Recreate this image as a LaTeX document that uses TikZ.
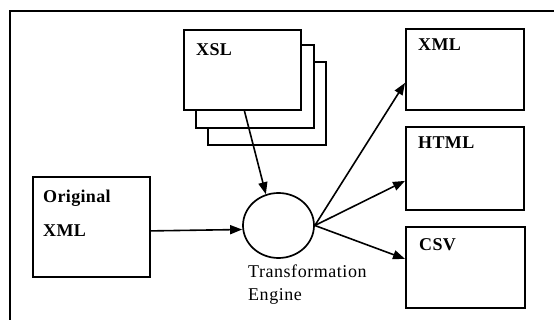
\documentclass[tikz,border=0pt]{standalone}
\usepackage{fontspec}
\setmainfont{Liberation Serif}
\newfontfamily\labfont[LetterSpace=2]{Liberation Serif}
\newfontfamily\capfont[LetterSpace=3]{Liberation Serif}
\usetikzlibrary{arrows.meta,shapes.geometric}
\begin{document}
\begin{tikzpicture}[x=1pt,y=-1pt,
  box/.style={draw,line width=1.8pt,rectangle,inner sep=0pt,anchor=north west,fill=white},
  boxtext/.style={anchor=base west,inner sep=0pt,font=\labfont\bfseries\fontsize{18}{20}\selectfont},
  captext/.style={anchor=base west,inner sep=0pt,font=\capfont\fontsize{18}{20}\selectfont},
  flow/.style={line width=1.6pt,-{Triangle[length=12pt,width=9pt]}},
  frameline/.style={line width=2pt}]
\useasboundingbox (0,0) rectangle (554,320);

% outer frame (only top and left edges fall inside the page)
\coordinate (frameTR) at (554,11);
\coordinate (frameTL) at (10,11);
\coordinate (frameBL) at (10,320);
\draw[frameline] (frameTR) -- (frameTL) -- (frameBL);

% stacked stylesheets
\node[box,minimum width=118pt,minimum height=83pt] (xsl3) at (207,61) {};
\node[box,minimum width=118pt,minimum height=83pt] (xsl2) at (195,44) {};
\node[box,minimum width=117pt,minimum height=80pt] (xsl1) at (183,29) {};
\node[boxtext] (xsltext) at (196,56) {XSL};

% source document
\node[box,minimum width=117pt,minimum height=100pt] (orig) at (32,176) {};
\node[boxtext] (origtext1) at (43,203) {Original};
\node[boxtext] (origtext2) at (43,237) {XML};

% output documents
\node[box,minimum width=118pt,minimum height=81pt] (xml) at (405,28) {};
\node[boxtext] (xmltext) at (418,51) {XML};
\node[box,minimum width=118pt,minimum height=83pt] (html) at (405,126) {};
\node[boxtext] (htmltext) at (418,149) {HTML};
\node[box,minimum width=119pt,minimum height=81pt] (csv) at (405,226) {};
\node[boxtext] (csvtext) at (419,251) {CSV};

% transformation engine
\node[draw,ellipse,line width=1.7pt,minimum width=71pt,minimum height=65pt,inner sep=0pt] (engine) at (278.5,225.5) {};
\node[captext] (engtext1) at (248,278) {Transformation};
\node[captext] (engtext2) at (248,301) {Engine};

% connector end points
\coordinate (origout) at ([yshift=-4pt]orig.east);
\coordinate (enginein) at ([yshift=-4pt]engine.west);
\coordinate (xslout) at ([xshift=2pt]xsl1.south);
\coordinate (xmlin) at ([yshift=-13.5pt]xml.west);
\coordinate (htmlin) at ([yshift=-12.5pt]html.west);
\coordinate (csvin) at ([yshift=8.5pt]csv.west);

% connectors
\draw[flow] (origout) -- (enginein);
\draw[flow] (xslout) -- (engine.112);
\draw[flow] (engine.east) -- (xmlin);
\draw[flow] (engine.east) -- (htmlin);
\draw[flow] (engine.east) -- (csvin);
\end{tikzpicture}
\end{document}
